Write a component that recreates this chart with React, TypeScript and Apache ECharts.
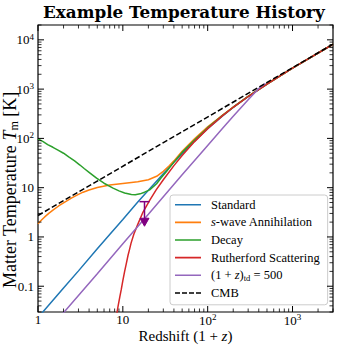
import React, { useEffect, useRef } from "react";
import * as echarts from "echarts";

const TITLE = "Example Temperature History";
const Y_LABEL = "Matter Temperature {i|T}{sub|m} [K]";
const X_LABEL = "Redshift (1 + {i|z})";
const X_MIN = 1;
const X_MAX = 3000;
const Y_MIN = 0.03;
const Y_MAX = 20000;

const xDecades = [1, 10, 100, 1000];
const yDecades = [0.01, 0.1, 1, 10, 100, 1000, 10000];
const minorMultipliers = [2, 3, 4, 5, 6, 7, 8, 9];

const seriesNames = [
  "Standard",
  "s-wave Annihilation",
  "Decay",
  "Rutherford Scattering",
  "(1+z)td = 500",
  "CMB",
];
const seriesColors = ["#1f77b4", "#ff7f0e", "#2ca02c", "#d62728", "#9467bd", "#000000"];

// (1+z, T_m [K])
const standard = [
  [1, 0.0231], [2, 0.092], [3, 0.205], [5, 0.575], [7, 1.12], [10, 2.27], [15, 5.1],
  [20, 8.83], [30, 19.2], [40, 32.7], [50, 49], [70, 88], [100, 157], [150, 287],
  [200, 425], [300, 706], [500, 1267], [700, 1824], [1000, 2654], [2000, 5399], [3000, 8134],
];
const swave = [
  [1, 1.85], [1.1, 2.2], [1.2, 2.55], [1.35, 3.05], [1.5, 3.5], [1.75, 4.25], [2, 4.9],
  [2.5, 6.2], [3, 7.3], [3.4, 8.1], [4, 9.0], [5, 10.1], [7, 11.3], [10, 12.2], [15, 13.2],
  [20, 14.5], [25, 17], [30, 21.5], [35, 27.5], [40, 35], [50, 55], [70, 98], [100, 172],
  [150, 298], [200, 433], [300, 712], [500, 1270], [1000, 2655], [3000, 8134],
];
const decay = [
  [1, 98], [1.15, 86], [1.3, 75], [1.5, 66], [1.72, 58], [2, 50], [2.3, 42], [2.7, 35],
  [3.12, 28.8], [3.5, 24.5], [4, 20.5], [4.9, 15.6], [6, 12.3], [7.67, 9.8], [9, 8.6],
  [10.5, 7.8], [12.6, 7.25], [14, 7.2], [16, 7.5], [18, 8.1], [20.7, 9.0], [25, 12.0],
  [28, 15.5], [32.5, 21], [40, 33], [50, 52], [70, 93], [100, 165], [150, 293],
  [200, 429], [300, 709], [500, 1268], [1000, 2655], [3000, 8134],
];
const rutherford = [
  [8.4, 0.025], [8.8, 0.04], [9.2, 0.06], [9.6, 0.087], [10, 0.13], [10.5, 0.2],
  [11, 0.29], [11.5, 0.42], [12, 0.56], [12.5, 0.75], [13.5, 1.15], [15, 1.8], [17.3, 3.2],
  [20.7, 5.5], [24.7, 9.0], [30, 14.5], [40, 28], [50, 45], [70, 86], [100, 158],
  [150, 290], [200, 428], [300, 708], [500, 1268], [1000, 2655], [3000, 8134],
];
const decoupled500 = [
  [1, 0.0072], [2, 0.029], [5, 0.18], [10, 0.73], [20, 2.9], [50, 18.3], [100, 72],
  [150, 160], [200, 280], [300, 610], [400, 1030], [480, 1308],
];
const cmb = [
  [1, 2.725], [3000, 8175],
];

// upper-limit marker: [1+z, upper value, arrow tip]
const upperLimit = [[18, 5.2, 1.65]];

const SERIF = "'Liberation Serif', 'Times New Roman', serif";

const SOLID_ICON = "path://M0,0h0.05v0.05h-0.05z M0,4.2h26v1.6h-26z M25.95,9.95h0.05v0.05h-0.05z";
const DASH_ICON =
  "path://M0,0h0.05v0.05h-0.05z M0,4.2h5v1.6h-5z M7,4.2h5v1.6h-5z M14,4.2h5v1.6h-5z M21,4.2h5v1.6h-5z M25.95,9.95h0.05v0.05h-0.05z";

function buildTicks(decades: number[], lo: number, hi: number) {
  const out: number[][] = [];
  decades.forEach((d) => {
    if (d >= lo && d <= hi) out.push([d, 1]);
    minorMultipliers.forEach((m) => {
      const v = d * m;
      if (v >= lo * 0.999 && v <= hi * 1.001) out.push([v, 0]);
    });
  });
  return out;
}

function fmtPow(v: number, isY: boolean) {
  const lg = Math.log10(v);
  const e = Math.round(lg);
  if (Math.abs(lg - e) > 1e-6) return "";
  if (isY && e === -1) return "0.1";
  if (e === 0) return "1";
  if (e === 1) return "10";
  return "10{sup|" + e + "}";
}

export default function App() {
  const ref = useRef<HTMLDivElement>(null);
  useEffect(() => {
    if (!ref.current) return;
    const chart = echarts.init(ref.current, undefined, { renderer: "svg" });
    const xTicks = buildTicks(xDecades, X_MIN, X_MAX).map((t) => [t[0], 1, t[1]]);
    const yTicks = buildTicks(yDecades, Y_MIN, Y_MAX).map((t) => [1, t[0], t[1]]);
    const datas = [standard, swave, decay, rutherford, decoupled500, cmb];

    const labelRich = {
      sup: { fontSize: 9, fontFamily: SERIF, color: "#000", padding: [0, 0, 6, 0] },
    };

    const lineSeries = datas.map((d, i) => ({
      type: "line",
      name: seriesNames[i],
      data: d,
      showSymbol: false,
      symbol: "none",
      smooth: false,
      clip: true,
      lineStyle: {
        color: seriesColors[i],
        width: 1.5,
        type: i === 5 ? [5.5, 2.5] : "solid",
      },
      itemStyle: { color: seriesColors[i] },
      z: 2 + i,
    }));

    const option: any = {
      animation: false,
      title: {
        text: TITLE,
        left: 43,
        top: 3,
        padding: 0,
        textStyle: {
          fontFamily: "'DejaVu Serif', serif",
          fontWeight: "bold",
          fontSize: 16.8,
          color: "#000",
        },
      },
      grid: {
        left: 38,
        top: 25,
        width: 295,
        height: 287,
        show: true,
        borderColor: "#000",
        borderWidth: 1.2,
        backgroundColor: "transparent",
        containLabel: false,
        outerBoundsMode: "none",
      },
      graphic: [
        {
          type: "text",
          x: 10,
          y: 190,
          rotation: Math.PI / 2,
          z: 50,
          style: {
            text: Y_LABEL,
            fontFamily: SERIF,
            fontSize: 18,
            fill: "#000",
            align: "center",
            verticalAlign: "middle",
            rich: {
              i: { fontFamily: SERIF, fontSize: 18, fontStyle: "italic", fill: "#000", color: "#000" },
              sub: { fontFamily: SERIF, fontSize: 12, fill: "#000", color: "#000", padding: [8, 0, 0, 0] },
            },
          },
        },
      ],
      legend: {
        data: seriesNames.map((n, i) => ({ name: n, icon: i === 5 ? DASH_ICON : SOLID_ICON })),
        orient: "vertical",
        left: 170,
        top: 195,
        padding: [3, 8, 5, 5],
        itemGap: 4,
        itemWidth: 26,
        itemHeight: 10,
        backgroundColor: "rgba(255,255,255,0.85)",
        borderColor: "#cccccc",
        borderWidth: 1,
        borderRadius: 3,
        itemStyle: { borderWidth: 0 },
        lineStyle: { width: 0 },
        formatter: (name: string) => {
          if (name === "s-wave Annihilation") return "{i|s}-wave Annihilation";
          if (name === "(1+z)td = 500") return "(1 + {i|z}){sub|td} = 500";
          return name;
        },
        textStyle: {
          fontFamily: SERIF,
          fontSize: 12.5,
          color: "#000",
          lineHeight: 13.6,
          padding: [0, 0, 0, 5],
          rich: {
            i: { fontFamily: SERIF, fontStyle: "italic", fontSize: 12.5, color: "#000", lineHeight: 13.6 },
            sub: { fontFamily: SERIF, fontSize: 8.5, color: "#000", padding: [5, 0, 0, 0] },
          },
        },
      },
      xAxis: [
        {
          type: "log",
          logBase: 10,
          min: X_MIN,
          max: X_MAX,
          axisLine: { show: false },
          axisTick: { show: false },
          splitLine: { show: false },
          minorTick: { show: false },
          axisLabel: {
            formatter: (v: number) => fmtPow(v, false),
            margin: 0.5,
            color: "#000",
            fontFamily: SERIF,
            fontSize: 13,
            rich: labelRich,
          },
          name: X_LABEL,
          nameLocation: "middle",
          nameGap: 16.5,
          nameMoveOverlap: false,
          nameTextStyle: {
            fontFamily: SERIF,
            fontSize: 15,
            color: "#000",
            verticalAlign: "top",
            rich: {
              i: { fontFamily: SERIF, fontSize: 15, fontStyle: "italic", color: "#000" },
            },
          },
        },
      ],
      yAxis: [
        {
          type: "log",
          logBase: 10,
          min: Y_MIN,
          max: Y_MAX,
          axisLine: { show: false },
          axisTick: { show: false },
          splitLine: { show: false },
          minorTick: { show: false },
          axisLabel: {
            formatter: (v: number) => fmtPow(v, true),
            margin: 4,
            color: "#000",
            fontFamily: SERIF,
            fontSize: 13,
            rich: labelRich,
          },
        },
      ],
      series: [
        ...lineSeries,
        {
          type: "custom",
          name: "upper-limit",
          data: upperLimit,
          z: 20,
          renderItem: (params: any, api: any) => {
            const x = api.value(0);
            const top = api.coord([x, api.value(1)]);
            const tip = api.coord([x, api.value(2)]);
            const c = "#800080";
            const headH = 8;
            const headW = 4.5;
            return {
              type: "group",
              children: [
                { type: "line", shape: { x1: top[0], y1: top[1], x2: tip[0], y2: tip[1] - headH + 1 }, style: { stroke: c, lineWidth: 1.5 } },
                { type: "line", shape: { x1: top[0] - 5, y1: top[1], x2: top[0] + 5, y2: top[1] }, style: { stroke: c, lineWidth: 1.5 } },
                {
                  type: "polygon",
                  shape: { points: [[tip[0] - headW, tip[1] - headH], [tip[0] + headW, tip[1] - headH], [tip[0], tip[1]]] },
                  style: { fill: c, stroke: c, lineWidth: 1 },
                },
              ],
            };
          },
        },
        {
          type: "custom",
          name: "xticks",
          data: xTicks,
          z: 30,
          renderItem: (params: any, api: any) => {
            const p = api.coord([api.value(0), 1]);
            const cs = params.coordSys;
            const major = api.value(2) === 1;
            const len = major ? 6 : 3.5;
            const st = { stroke: "#000", lineWidth: major ? 1 : 0.8 };
            return {
              type: "group",
              children: [
                { type: "line", shape: { x1: p[0], y1: cs.y + cs.height, x2: p[0], y2: cs.y + cs.height - len }, style: st },
                { type: "line", shape: { x1: p[0], y1: cs.y, x2: p[0], y2: cs.y + len }, style: st },
              ],
            };
          },
        },
        {
          type: "custom",
          name: "yticks",
          data: yTicks,
          z: 30,
          renderItem: (params: any, api: any) => {
            const p = api.coord([1, api.value(1)]);
            const cs = params.coordSys;
            const major = api.value(2) === 1;
            const len = major ? 6 : 3.5;
            const st = { stroke: "#000", lineWidth: major ? 1 : 0.8 };
            return {
              type: "group",
              children: [
                { type: "line", shape: { x1: cs.x, y1: p[1], x2: cs.x + len, y2: p[1] }, style: st },
                { type: "line", shape: { x1: cs.x + cs.width, y1: p[1], x2: cs.x + cs.width - len, y2: p[1] }, style: st },
              ],
            };
          },
        },
      ],
    };
    chart.setOption(option);
    return () => chart.dispose();
  }, []);
  return (
    <div
      ref={ref}
      style={{ position: "fixed", left: 0, top: 0, width: 337, height: 346, background: "#fff" }}
    />
  );
}
